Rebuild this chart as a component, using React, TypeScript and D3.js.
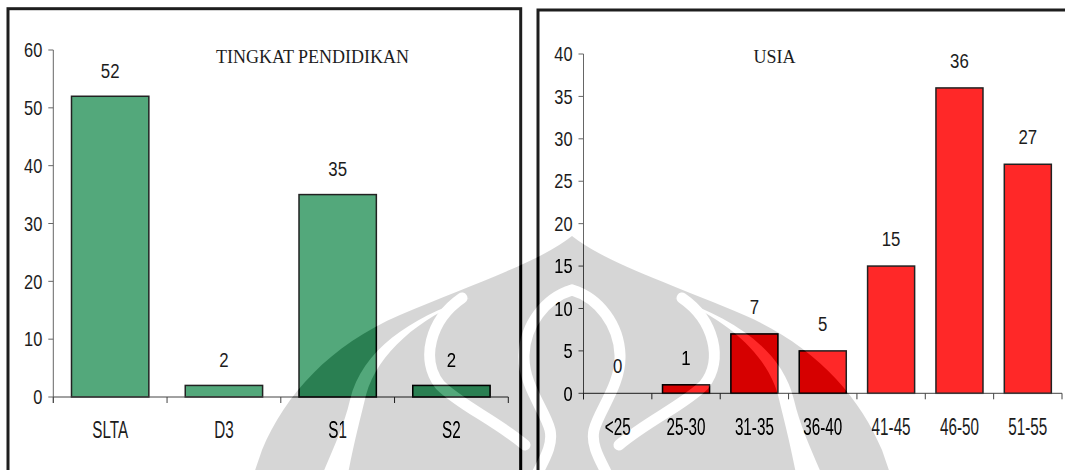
import React from "react";
import * as d3 from "d3";

// Education level counts
const eduCategories = ["SLTA", "D3", "S1", "S2"];
const eduCounts = [52, 2, 35, 2];
const eduTicks = [0, 10, 20, 30, 40, 50, 60];

// Age group counts
const ageCategories = ["<25", "25-30", "31-35", "36-40", "41-45", "46-50", "51-55"];
const ageCounts = [0, 1, 7, 5, 15, 36, 27];
const ageTicks = [0, 5, 10, 15, 20, 25, 30, 35, 40];

const SANS = "'Liberation Sans', Arial, sans-serif";
const SERIF = "'Liberation Serif', 'Times New Roman', serif";
const INK = "#1c1c1c";

// Condensed sans text: regular sans squeezed horizontally
function NText(props: {
  x: number;
  y: number;
  size: number;
  anchor: "start" | "middle" | "end";
  sx?: number;
  sy?: number;
  dy?: string;
  children: React.ReactNode;
}) {
  const sx = props.sx ?? 0.82;
  const sy = props.sy ?? 1;
  return (
    <text
      transform={`translate(${props.x},${props.y}) scale(${sx},${sy})`}
      dy={props.dy}
      textAnchor={props.anchor}
      fontFamily={SANS}
      fontSize={props.size}
      fill={INK}
    >
      {props.children}
    </text>
  );
}

type PanelProps = {
  frame: [number, number, number];
  xRange: [number, number];
  yRange: [number, number];
  yMax: number;
  ticks: number[];
  categories: string[];
  values: number[];
  fill: string;
  padding: number;
  title: string;
  titleX: number;
  titleY: number;
  labelGap: number;
  catBaseline: number;
};

function Panel(p: PanelProps) {
  const x = d3
    .scaleBand<string>()
    .domain(p.categories)
    .range(p.xRange)
    .paddingInner(p.padding)
    .paddingOuter(p.padding / 2);
  const y = d3.scaleLinear().domain([0, p.yMax]).range(p.yRange);
  const [x0, x1] = p.xRange;
  const y0 = y(0);
  const bounds = d3.range(p.categories.length + 1).map((i) => x0 + i * x.step());
  const [fx, fy, fw] = p.frame;

  return (
    <g>
      <rect x={fx} y={fy} width={fw} height={700} fill="none" stroke="#1e1e1e" strokeWidth={3} />
      <text x={p.titleX} y={p.titleY} textAnchor="middle" fontFamily={SERIF} fontSize={18} fill={INK}>
        {p.title}
      </text>
      {/* y axis */}
      <line x1={x0} x2={x0} y1={y(p.yMax)} y2={y0 + 6} stroke="#666" strokeWidth={1} />
      {p.ticks.map((t) => (
        <g key={"yt" + t}>
          <line x1={x0 - 5} x2={x0} y1={y(t)} y2={y(t)} stroke="#666" strokeWidth={1} />
          <NText x={x0 - 11} y={y(t)} dy="0.36em" anchor="end" size={20}>
            {t}
          </NText>
        </g>
      ))}
      {/* bars */}
      {p.categories.map((c, i) => (
        <rect
          key={"b" + c}
          x={x(c)}
          y={y(p.values[i])}
          width={x.bandwidth()}
          height={y0 - y(p.values[i])}
          fill={p.fill}
          stroke="#222"
          strokeWidth={1.5}
        />
      ))}
      {/* x axis */}
      <line x1={x0} x2={x1} y1={y0} y2={y0} stroke="#444" strokeWidth={1} />
      {bounds.map((bx, i) => (
        <line key={"xt" + i} x1={bx} x2={bx} y1={y0} y2={y0 + 6} stroke="#444" strokeWidth={1} />
      ))}
      {p.categories.map((c) => (
        <NText
          key={"c" + c}
          x={x(c)! + x.bandwidth() / 2}
          y={p.catBaseline}
          anchor="middle"
          size={18.6}
          sy={1.25}
        >
          {c}
        </NText>
      ))}
      {/* value labels */}
      {p.categories.map((c, i) => (
        <NText
          key={"v" + c}
          x={x(c)! + x.bandwidth() / 2}
          y={y(p.values[i]) - p.labelGap}
          anchor="middle"
          size={20.5}
        >
          {p.values[i]}
        </NText>
      ))}
    </g>
  );
}

function Charts() {
  return (
    <g>
      <rect x={0} y={0} width={1065} height={470} fill="#ffffff" />
      <Panel
        frame={[8, 8.7, 512.7]}
        xRange={[53.3, 508.3]}
        yRange={[397, 50]}
        yMax={60}
        ticks={eduTicks}
        categories={eduCategories}
        values={eduCounts}
        fill="#53a87b"
        padding={0.32}
        title="TINGKAT PENDIDIKAN"
        titleX={312.5}
        titleY={63.3}
        labelGap={18.5}
        catBaseline={438}
      />
      <Panel
        frame={[538, 10, 700]}
        xRange={[583.5, 1062]}
        yRange={[393.3, 54]}
        yMax={40}
        ticks={ageTicks}
        categories={ageCategories}
        values={ageCounts}
        fill="#ff2828"
        padding={0.312}
        title="USIA"
        titleX={774.5}
        titleY={62.7}
        labelGap={20.3}
        catBaseline={435}
      />
    </g>
  );
}

// Emblem shape behind the charts: outer bulb, with light gaps cut into it
const emblemOutline =
  "M 572,236 C 540,262 470,285 400,315 C 330,345 285,395 262,450 L 250,485 L 894,485 L 882,450 C 859,395 814,345 744,315 C 674,285 604,262 572,236 Z";
const emblemGaps = [
  "M 470,298 C 410,318 362,350 350,400 C 343,430 330,455 318,485 L 346,485 C 352,450 360,420 366,395 C 378,352 420,318 470,298 Z",
  "M 674,298 C 734,318 782,350 794,400 C 801,430 814,455 826,485 L 798,485 C 792,450 784,420 778,395 C 766,352 724,318 674,298 Z",
];
const emblemStrokes = [
  "M 462,298 C 430,320 420,360 440,385 C 460,405 495,420 525,445",
  "M 682,298 C 714,320 724,360 704,385 C 684,405 649,420 619,445",
  "M 572,290 C 545,298 525,325 524,355 C 523,385 545,410 550,430 C 554,448 540,465 532,485",
  "M 572,290 C 599,298 619,325 620,355 C 621,385 599,410 594,430 C 590,448 604,465 612,485",
];

export default function App() {
  return (
    <svg
      width={1065}
      height={470}
      viewBox="0 0 1065 470"
      style={{ position: "absolute", left: 0, top: 0, display: "block" }}
    >
      <defs>
        <filter
          id="emblemShade"
          x="0"
          y="0"
          width="1065"
          height="470"
          filterUnits="userSpaceOnUse"
          colorInterpolationFilters="sRGB"
        >
          <feComponentTransfer>
            <feFuncR type="linear" slope={1} intercept={-0.157} />
            <feFuncG type="linear" slope={1} intercept={-0.157} />
            <feFuncB type="linear" slope={1} intercept={-0.157} />
          </feComponentTransfer>
        </filter>
        <mask id="emblemMask" maskUnits="userSpaceOnUse" x={0} y={0} width={1065} height={470}>
          <rect x={0} y={0} width={1065} height={470} fill="#000" />
          <path d={emblemOutline} fill="#fff" />
          {emblemGaps.map((d, i) => (
            <path key={"g" + i} d={d} fill="#000" />
          ))}
          {emblemStrokes.map((d, i) => (
            <path key={"s" + i} d={d} fill="none" stroke="#000" strokeWidth={11} strokeLinecap="round" />
          ))}
        </mask>
      </defs>
      <Charts />
      <g mask="url(#emblemMask)">
        <g filter="url(#emblemShade)">
          <Charts />
        </g>
      </g>
    </svg>
  );
}
